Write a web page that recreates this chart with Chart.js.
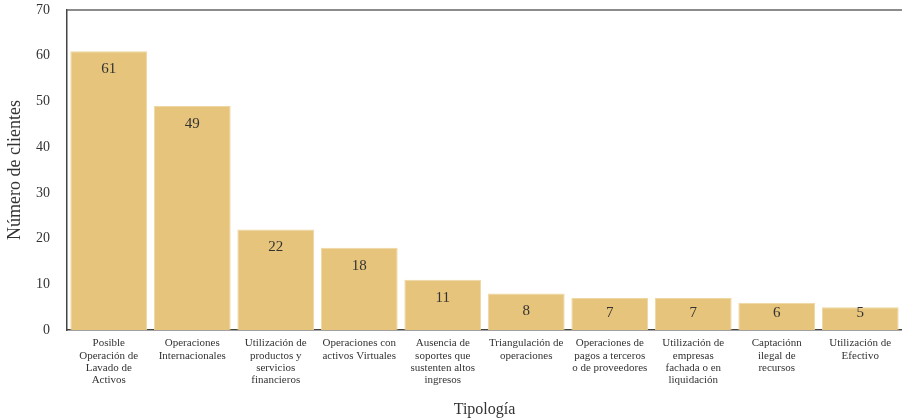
<!DOCTYPE html>
<html>
<head>
<meta charset="utf-8">
<script src="https://cdn.jsdelivr.net/npm/chart.js@4"></script>
<style>
  html, body { margin: 0; padding: 0; background: #fff; }
  #wrap { width: 902px; height: 419px; }
</style>
</head>
<body>
<div id="wrap"><canvas id="tipologiaChart" width="902" height="419"></canvas></div>
<script>
// Datos
const categorias = [
  ['Posible', 'Operación de', 'Lavado de', 'Activos'],
  ['Operaciones', 'Internacionales'],
  ['Utilización de', 'productos y', 'servicios', 'financieros'],
  ['Operaciones con', 'activos Virtuales'],
  ['Ausencia de', 'soportes que', 'sustenten altos', 'ingresos'],
  ['Triangulación de', 'operaciones'],
  ['Operaciones de', 'pagos a terceros', 'o de proveedores'],
  ['Utilización de', 'empresas', 'fachada o en', 'liquidación'],
  ['Captaciónn', 'ilegal de', 'recursos'],
  ['Utilización de', 'Efectivo']
];
const clientes = [61, 49, 22, 18, 11, 8, 7, 7, 6, 5];
const ticksY = [0, 10, 20, 30, 40, 50, 60, 70];

const serif = '"Liberation Serif", "DejaVu Serif", serif';
const textColor = '#333333';
const barColor = '#E6C47B';

// etiquetas dentro de las barras + borde superior
const barLabels = {
  id: 'barLabels',
  afterDatasetsDraw(chart) {
    const ctx = chart.ctx;
    const meta = chart.getDatasetMeta(0);
    ctx.save();
    ctx.font = '15px ' + serif;
    ctx.fillStyle = textColor;
    ctx.textAlign = 'center';
    ctx.textBaseline = 'middle';
    meta.data.forEach((bar, i) => {
      const y = Math.min(bar.y + 18, bar.base - 17);
      ctx.fillText(String(clientes[i]), bar.x, y);
    });
    ctx.restore();
  },
  afterDraw(chart) {
    const a = chart.chartArea;
    const ctx = chart.ctx;
    ctx.save();
    ctx.strokeStyle = '#666666';
    ctx.lineWidth = 1.5;
    ctx.beginPath();
    ctx.moveTo(a.left, a.top);
    ctx.lineTo(a.right, a.top);
    ctx.stroke();
    ctx.restore();
  }
};

const canvas = document.getElementById('tipologiaChart');
if (canvas) {
  const tipologiaChart = new Chart(canvas, {
    type: 'bar',
    data: {
      labels: categorias,
      datasets: [
        {
          data: clientes,
          backgroundColor: barColor,
          borderColor: '#EED7A0',
          borderWidth: 1,
          barPercentage: 0.92,
          categoryPercentage: 1
        }
      ]
    },
    options: {
      responsive: false,
      animation: false,
      layout: {
        padding: { top: 10, right: 0, left: 0, bottom: 0 }
      },
      plugins: {
        legend: { display: false },
        tooltip: { enabled: false }
      },
      scales: {
        x: {
          grid: { display: false, drawTicks: false },
          border: { display: true, color: '#444444', width: 1.5 },
          ticks: {
            color: textColor,
            font: { family: serif, size: 11, lineHeight: 1.13 },
            maxRotation: 0,
            autoSkip: false,
            padding: 7
          },
          title: {
            display: true,
            text: 'Tipología',
            color: textColor,
            font: { family: serif, size: 16 },
            padding: { top: 6, bottom: 0 }
          }
        },
        y: {
          min: 0,
          max: 70,
          afterBuildTicks(axis) {
            axis.ticks = ticksY.map(v => ({ value: v }));
          },
          afterFit(axis) {
            axis.paddingTop = 0;
            axis.width = 67;
          },
          grid: { display: false, drawTicks: false },
          border: { display: true, color: '#444444', width: 1.5 },
          ticks: {
            color: textColor,
            font: { family: serif, size: 14 },
            padding: 17
          },
          title: {
            display: true,
            text: 'Número de clientes',
            color: textColor,
            font: { family: serif, size: 18 },
            padding: { top: 4, bottom: 10 }
          }
        }
      }
    },
    plugins: [barLabels]
  });
}
</script>
</body>
</html>
